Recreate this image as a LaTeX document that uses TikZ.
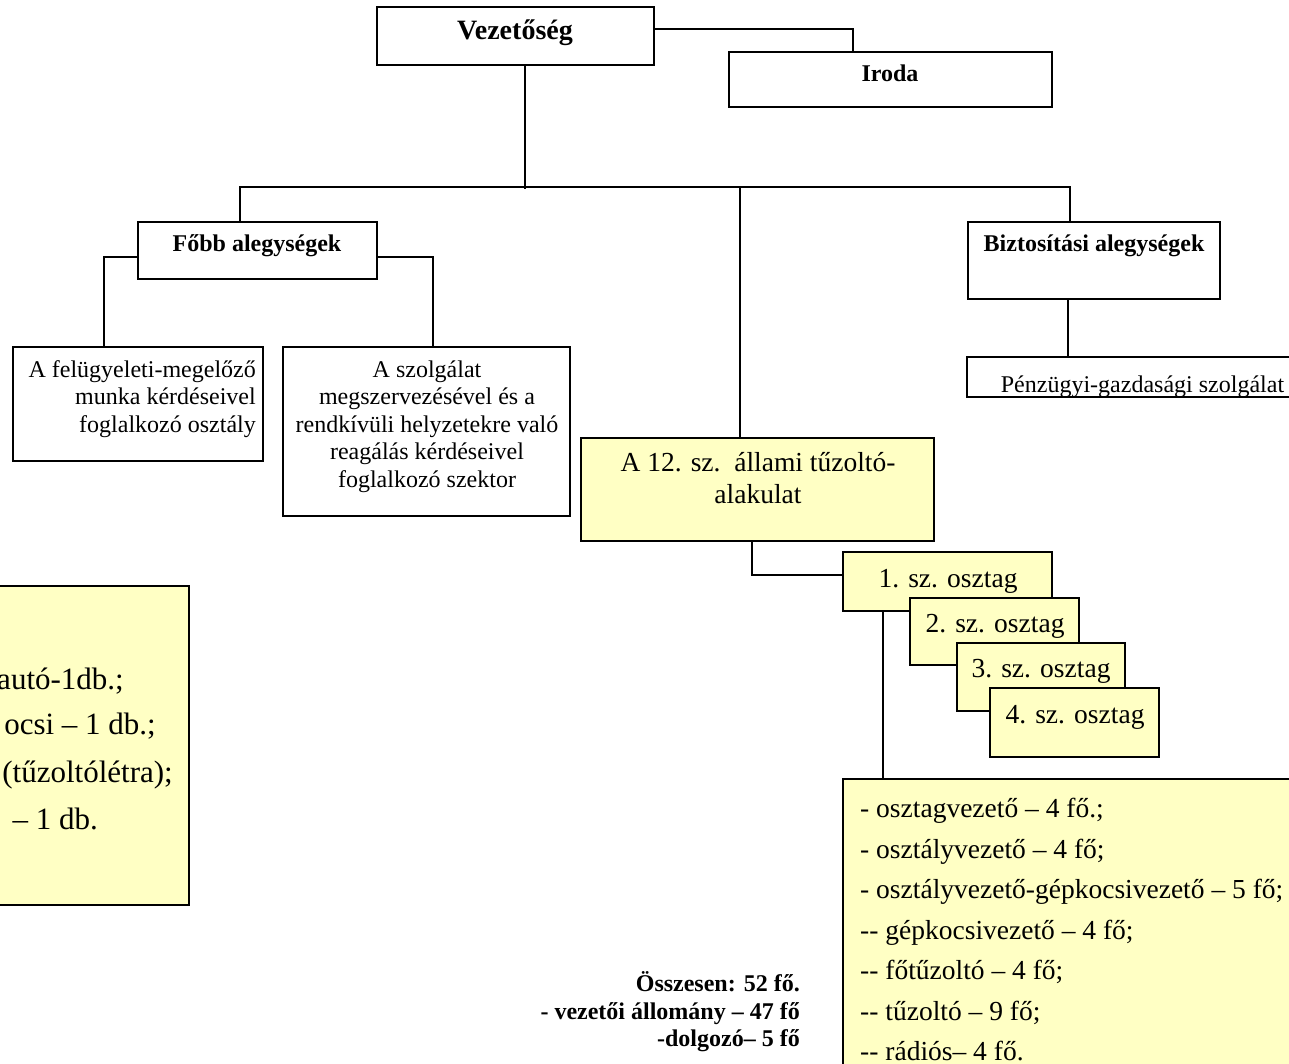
\documentclass[tikz,border=0pt]{standalone}
\usepackage{fontspec}
\setmainfont{Liberation Serif}
\usetikzlibrary{calc}
\definecolor{paleyellow}{RGB}{255,255,196}
\begin{document}
\begin{tikzpicture}[x=1pt,y=-1pt,
  box/.style 2 args={draw=black, line width=1.6pt, fill=white, inner sep=0pt,
    minimum width=#1, minimum height=#2},
  ybox/.style 2 args={box={#1}{#2}, fill=paleyellow},
  link/.style={line width=1.6pt},
  head/.style={font=\bfseries\fontsize{24}{28}\selectfont, anchor=base, inner sep=0pt},
  bighead/.style={head, font=\bfseries\fontsize{28}{32}\selectfont},
  small/.style={font=\fontsize{24}{28}\selectfont, inner sep=0pt},
  big/.style={font=\fontsize{27.5}{32}\selectfont, inner sep=0pt},
  huge/.style={font=\fontsize{31}{36}\selectfont, inner sep=0pt}
]
\useasboundingbox (0,0) rectangle (1289,1064);

% ---- boxes ----
\node[box={277pt}{58pt}] (vez) at (515.5,36) {};
\node[box={323pt}{55pt}] (iroda) at (890.5,79.5) {};
\node[box={239pt}{57pt}] (fobb) at (257.5,250.5) {};
\node[box={252pt}{77pt}] (bizt) at (1094,260.5) {};
\node[box={332pt}{38pt}, draw=none] (penz) at (1134,377) {};
\node[box={250pt}{114pt}] (felug) at (138,404) {};
\node[box={287pt}{169pt}] (szolg) at (426.5,431.5) {};
\node[ybox={353pt}{103pt}] (alak) at (757.5,489.5) {};
\node[ybox={457pt}{296pt}] (list) at (1071.5,927) {};
\node[ybox={219pt}{319pt}] (eszk) at (79.5,745.5) {};

% ---- connectors ----
\draw[link] ([yshift=-23pt]vez.north east) -| ([xshift=125pt]iroda.north west);
\draw[link] ([xshift=9.5pt]vez.south) -- ++(0,123);
\draw[link] ([xshift=-17.5pt]fobb.north) |- ([xshift=-24pt,yshift=34pt]bizt.north)
  -- ([xshift=-24pt]bizt.north);
\draw[link] ([xshift=-17.5pt]alak.north) -- ++(0,-250);
\draw[link] ([xshift=-26pt]bizt.south) -- ([xshift=-26pt]bizt.south |- penz.north);
\draw[link] ([yshift=-6.5pt]fobb.west) -| ([xshift=-34pt]felug.north);
\draw[link] ([yshift=-6.5pt]fobb.east) -| ([xshift=6.5pt]szolg.north);

% ---- squad boxes, stacked ----
\node[ybox={209pt}{59pt}] (o1) at (947.5,581.5) {};
\draw[link] ([xshift=-5.5pt]alak.south) |- ([yshift=6.5pt]o1.west);
\draw[link] ([xshift=-64.5pt]o1.south) -- ([xshift=-64.5pt]o1.south |- list.north);
\node[ybox={169pt}{67pt}] (o2) at (994.5,631.5) {};
\node[ybox={168pt}{68pt}] (o3) at (1041,677) {};
\node[ybox={169pt}{69pt}] (o4) at (1074.5,722.5) {};

% ---- headings ----
\node[bighead] (tvez) at (515,40) {Vezetőség};
\node[head] (tiroda) at (890,82) {Iroda};
\node[head] (tfobb) at (257,252) {Főbb alegységek};
\node[head] (tbizt) at (1094,252) {Biztosítási alegységek};

% ---- text cut off by the bottom of its box ----
\begin{scope}
  \clip (penz.north west) rectangle (penz.south east);
  \node[small, anchor=base] (tpenz) at (1142.5,392) {Pénzügyi-gazdasági szolgálat};
\end{scope}
\draw[line width=1.6pt] (penz.north west) rectangle (penz.south east);

% ---- department boxes ----
\node[small, anchor=base east] (tf1) at (256,377) {A felügyeleti-megelőző};
\node[small, anchor=base east] (tf2) at (256,404) {munka kérdéseivel};
\node[small, anchor=base east] (tf3) at (256,432) {foglalkozó osztály};

\node[small, anchor=base] (ts1) at (427,377) {A szolgálat};
\node[small, anchor=base] (ts2) at (427,404) {megszervezésével és a};
\node[small, anchor=base] (ts3) at (427,432) {rendkívüli helyzetekre való};
\node[small, anchor=base] (ts4) at (427,459) {reagálás kérdéseivel};
\node[small, anchor=base] (ts5) at (427,487) {foglalkozó szektor};

% ---- fire unit ----
\node[big, anchor=base] (ta1) at (758,471) {A 12. sz.\ \ állami tűzoltó-};
\node[big, anchor=base] (ta2) at (758,503) {alakulat};

\node[big, anchor=base] (to1) at (948,587) {1. sz. osztag};
\node[big, anchor=base] (to2) at (995,632) {2. sz. osztag};
\node[big, anchor=base] (to3) at (1041,677) {3. sz. osztag};
\node[big, anchor=base] (to4) at (1075,723) {4. sz. osztag};

% ---- staff list ----
\node[big, anchor=base west] (tl1) at (860,817) {- osztagvezető – 4 fő.;};
\node[big, anchor=base west] (tl2) at (860,858) {- osztályvezető – 4 fő;};
\node[big, anchor=base west] (tl3) at (860,898) {- osztályvezető-gépkocsivezető – 5 fő;};
\node[big, anchor=base west] (tl4) at (860,939) {-{}- gépkocsivezető – 4 fő;};
\node[big, anchor=base west] (tl5) at (860,979) {-{}- főtűzoltó – 4 fő;};
\node[big, anchor=base west] (tl6) at (860,1020) {-{}- tűzoltó – 9 fő;};
\node[big, anchor=base west] (tl7) at (860,1060) {-{}- rádiós– 4 fő.};

% ---- equipment list ----
\node[huge, anchor=base east] (te1) at (124,689) {autó-1db.;};
\node[huge, anchor=base east] (te2) at (156,734) {ocsi – 1 db.;};
\node[huge, anchor=base east] (te3) at (173,782) {(tűzoltólétra);};
\node[huge, anchor=base east] (te4) at (98,829) {– 1 db.};

% ---- totals ----
\node[head, anchor=base east] (tt1) at (800,991) {Összesen: 52 fő.};
\node[head, anchor=base east] (tt2) at (800,1019) {- vezetői állomány – 47 fő};
\node[head, anchor=base east] (tt3) at (800,1046) {-dolgozó– 5 fő};
\end{tikzpicture}
\end{document}
